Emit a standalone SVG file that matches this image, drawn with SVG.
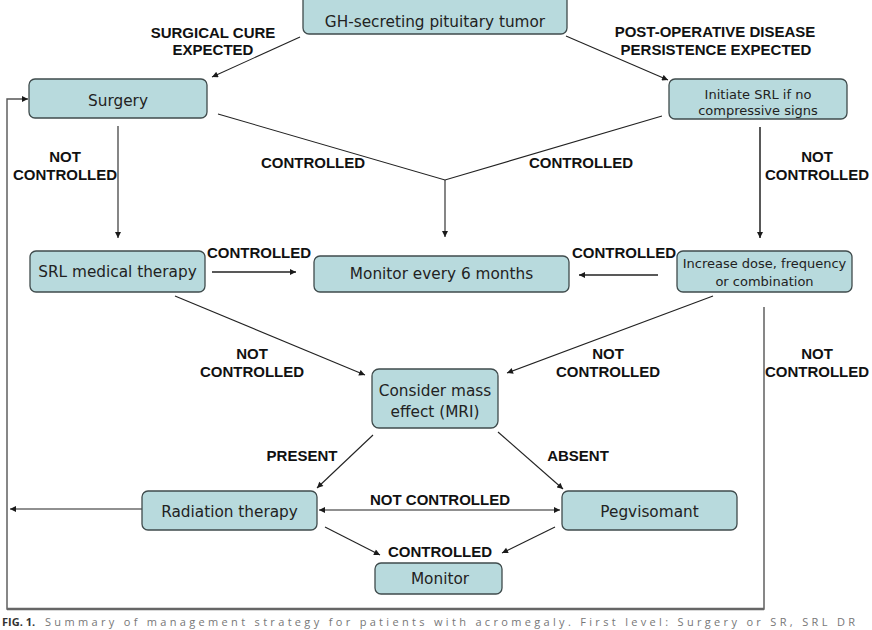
<svg xmlns="http://www.w3.org/2000/svg" width="872" height="630" viewBox="0 0 872 630">
<defs>
<marker id="ah" viewBox="0 0 10 10" refX="10" refY="5" markerWidth="7" markerHeight="6" markerUnits="userSpaceOnUse" orient="auto-start-reverse">
<path d="M0,0 L10,5 L0,10 z" fill="#1a1a1a"/>
</marker>
</defs>
<style>
.box{fill:#b8dadd;stroke:#3f4b4c;stroke-width:1.3}
.nt{font-family:"DejaVu Sans",Verdana,sans-serif;font-size:15.3px;fill:#222;text-anchor:middle}
.ns{font-family:"DejaVu Sans",Verdana,sans-serif;font-size:13px;fill:#222;text-anchor:middle}
.lb{font-family:"Liberation Sans",Arial,sans-serif;font-size:15px;font-weight:bold;fill:#111;text-anchor:middle}
.ln{fill:none;stroke:#222;stroke-width:1.1}
.ar{marker-end:url(#ah)}
.cap{font-family:"Open Sans","Liberation Sans",sans-serif;font-size:11px;fill:#777}
</style>
<rect width="872" height="630" fill="#fff"/>

<g id="connectors">
<path class="ln" d="M764,307 V609 H7 V99 H28" style="stroke:#555;stroke-width:1.4" marker-end="url(#ah)"/>
<line x1="7" y1="609" x2="764" y2="609" stroke="#666" stroke-width="2.6"/>
<line class="ln ar" x1="300" y1="37" x2="212" y2="77"/>
<line class="ln ar" x1="566" y1="36" x2="668" y2="80"/>
<polyline class="ln" points="218,114 445,180 662,116"/>
<line class="ln ar" x1="445" y1="180" x2="445" y2="237"/>
<line class="ln ar" x1="118" y1="126" x2="118" y2="238"/>
<line class="ln ar" x1="760" y1="127" x2="760" y2="238" style="stroke-width:1.5"/>
<line class="ln ar" x1="212" y1="272" x2="296" y2="272" style="stroke-width:1.4"/>
<line class="ln ar" x1="658" y1="275" x2="579" y2="275" style="stroke-width:1.4"/>
<line class="ln ar" x1="175" y1="296" x2="365" y2="375"/>
<line class="ln ar" x1="713" y1="296" x2="507" y2="373"/>
<line class="ln ar" x1="373" y1="435" x2="317" y2="488"/>
<line class="ln ar" x1="498" y1="432" x2="563" y2="489"/>
<line class="ln ar" x1="319" y1="510" x2="560" y2="510" marker-start="url(#ah)"/>
<line class="ln ar" x1="325" y1="527" x2="380" y2="555"/>
<line class="ln ar" x1="555" y1="527" x2="502" y2="553"/>
<line class="ln ar" x1="142" y1="509" x2="10" y2="509"/>
</g>

<g id="labels">
<text class="lb" x="213" y="38">SURGICAL CURE</text>
<text class="lb" x="213" y="55">EXPECTED</text>
<text class="lb" x="715" y="37">POST-OPERATIVE DISEASE</text>
<text class="lb" x="716" y="55">PERSISTENCE EXPECTED</text>
<text class="lb" x="65" y="162">NOT</text>
<text class="lb" x="65" y="180">CONTROLLED</text>
<text class="lb" x="313" y="168">CONTROLLED</text>
<text class="lb" x="581" y="168">CONTROLLED</text>
<text class="lb" x="817" y="162">NOT</text>
<text class="lb" x="817" y="180">CONTROLLED</text>
<text class="lb" x="259" y="258">CONTROLLED</text>
<text class="lb" x="624" y="258">CONTROLLED</text>
<text class="lb" x="252" y="359">NOT</text>
<text class="lb" x="252" y="377">CONTROLLED</text>
<text class="lb" x="608" y="359">NOT</text>
<text class="lb" x="608" y="377">CONTROLLED</text>
<text class="lb" x="817" y="359">NOT</text>
<text class="lb" x="817" y="377">CONTROLLED</text>
<text class="lb" x="302" y="461">PRESENT</text>
<text class="lb" x="578" y="461">ABSENT</text>
<text class="lb" x="440" y="505">NOT CONTROLLED</text>
<text class="lb" x="440" y="557">CONTROLLED</text>
</g>

<g id="n-gh">
<rect class="box" x="303" y="-6" width="264" height="40" rx="6"/>
<text class="nt" x="435" y="26.5">GH-secreting pituitary tumor</text>
</g>
<g id="n-surgery">
<rect class="box" x="29" y="79" width="178" height="39" rx="6"/>
<text class="nt" x="118" y="106">Surgery</text>
</g>
<g id="n-initiate">
<rect class="box" x="669" y="79" width="178" height="40" rx="6"/>
<text class="ns" x="758" y="99">Initiate SRL if no</text>
<text class="ns" x="758" y="115">compressive signs</text>
</g>
<g id="n-srl">
<rect class="box" x="30" y="251" width="175" height="41" rx="6"/>
<text class="nt" x="117.5" y="277">SRL medical therapy</text>
</g>
<g id="n-monitor6">
<rect class="box" x="314" y="256" width="255" height="36" rx="6"/>
<text class="nt" x="441.5" y="279">Monitor every 6 months</text>
</g>
<g id="n-increase">
<rect class="box" x="677" y="251" width="175" height="41" rx="6"/>
<text class="ns" x="764.5" y="268">Increase dose, frequency</text>
<text class="ns" x="764.5" y="286">or combination</text>
</g>
<g id="n-consider">
<rect class="box" x="372" y="369" width="126" height="59" rx="7"/>
<text class="nt" x="435" y="396">Consider mass</text>
<text class="nt" x="435" y="417">effect (MRI)</text>
</g>
<g id="n-radiation">
<rect class="box" x="142" y="491" width="175" height="39" rx="6"/>
<text class="nt" x="229.5" y="517">Radiation therapy</text>
</g>
<g id="n-pegvisomant">
<rect class="box" x="562" y="491" width="175" height="39" rx="6"/>
<text class="nt" x="649.5" y="517">Pegvisomant</text>
</g>
<g id="n-monitor">
<rect class="box" x="375" y="563" width="127" height="31" rx="6"/>
<text class="nt" x="440" y="584">Monitor</text>
</g>

<g id="caption">
<text class="cap" x="2" y="626" style="font-weight:bold;fill:#333">FIG. 1.</text>
<text class="cap" x="45" y="626" textLength="810" lengthAdjust="spacing">Summary of management strategy for patients with acromegaly. First level: Surgery or SR, SRL DR</text>
</g>
</svg>
